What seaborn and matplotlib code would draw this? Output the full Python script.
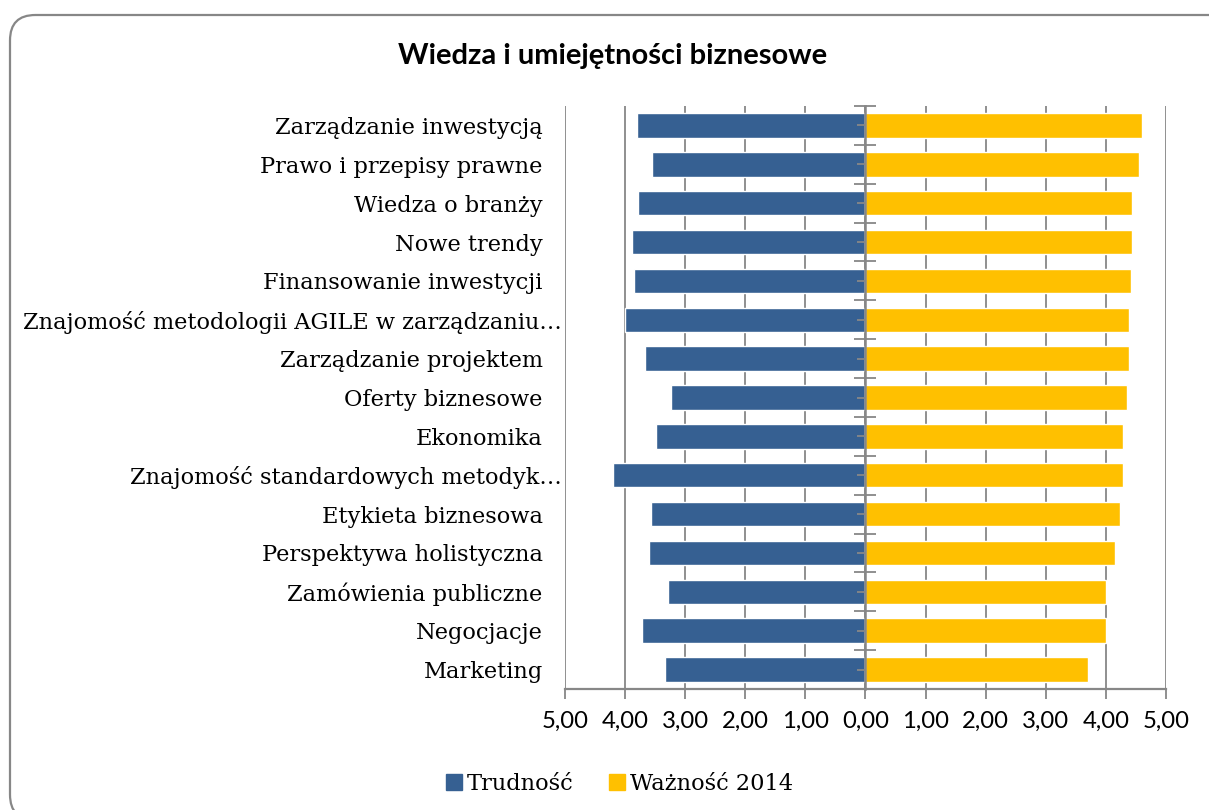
import numpy as np
import pandas as pd
import matplotlib
matplotlib.use("Agg")
import matplotlib.pyplot as plt
import matplotlib.transforms as mtransforms
from matplotlib.lines import Line2D
from matplotlib.patches import FancyBboxPatch
from matplotlib.ticker import FuncFormatter
import seaborn as sns

# Dane (od góry do dołu)
kategorie = [
    "Zarządzanie inwestycją",
    "Prawo i przepisy prawne",
    "Wiedza o branży",
    "Nowe trendy",
    "Finansowanie inwestycji",
    "Znajomość metodologii AGILE w zarządzaniu…",
    "Zarządzanie projektem",
    "Oferty biznesowe",
    "Ekonomika",
    "Znajomość standardowych metodyk…",
    "Etykieta biznesowa",
    "Perspektywa holistyczna",
    "Zamówienia publiczne",
    "Negocjacje",
    "Marketing",
]
trudnosc = [3.80, 3.55, 3.78, 3.88, 3.85, 4.00, 3.67, 3.24, 3.49, 4.20, 3.57, 3.60, 3.28, 3.72, 3.33]
waznosc_2014 = [4.60, 4.55, 4.44, 4.44, 4.42, 4.39, 4.39, 4.36, 4.29, 4.28, 4.24, 4.15, 4.00, 4.00, 3.70]
seria_nazwy = ["Trudność", "Ważność 2014"]
x_ticki = [-5, -4, -3, -2, -1, 0, 1, 2, 3, 4, 5]

kolor_niebieski = "#366092"
kolor_zolty = "#FFC000"
kolor_szary = "#878787"

df = pd.DataFrame({"kategoria": kategorie,
                   "trudnosc": -np.array(trudnosc),
                   "waznosc": np.array(waznosc_2014)})

sns.set_theme(style="white")
plt.rcParams["font.family"] = ["DejaVu Serif"]
plt.rcParams["text.color"] = "black"

fig = plt.figure(figsize=(12.09, 8.10), dpi=100)
ax = fig.add_axes([0.4673, 0.1494, 0.4971, 0.7197])

sns.barplot(data=df, x="trudnosc", y="kategoria", color=kolor_niebieski,
            width=0.63, saturation=1, ax=ax)
sns.barplot(data=df, x="waznosc", y="kategoria", color=kolor_zolty,
            width=0.63, saturation=1, ax=ax)

n = len(kategorie)
ax.set_xlim(-5, 5)
ax.set_ylim(n - 0.5, -0.5)
ax.set_xlabel("")
ax.set_ylabel("")

# siatka pionowa
ax.set_xticks(x_ticki)
ax.grid(axis="x", color=kolor_szary, linewidth=1.3)
ax.set_axisbelow(True)
for s in ["top", "right", "left"]:
    ax.spines[s].set_visible(False)
ax.spines["bottom"].set_color(kolor_szary)
ax.spines["bottom"].set_linewidth(1.6)

ax.xaxis.set_major_formatter(FuncFormatter(lambda v, p: f"{abs(v):.2f}".replace(".", ",")))
ax.tick_params(axis="x", bottom=True, direction="out", length=7, width=1.3,
               color=kolor_szary, pad=9, labelsize=17.2, labelcolor="black")
for t in ax.get_xticklabels():
    t.set_fontfamily("Lato")

ax.tick_params(axis="y", left=False, pad=10, labelsize=16.2, labelcolor="black")
przesun = mtransforms.ScaledTranslation(13.5 / 72, 0, fig.dpi_scale_trans)
for t in ax.get_yticklabels():
    if t.get_text().endswith("…"):
        t.set_transform(t.get_transform() + przesun)

# oś pionowa w zerze (nad słupkami)
os0 = ax.secondary_yaxis(0.5)
os0.set_zorder(3)
os0.set_yticks(np.arange(n + 1) - 0.5)
os0.set_yticks(np.arange(n), minor=True)
os0.set_yticklabels([])
os0.tick_params(which="major", direction="inout", length=16, width=1.3, color=kolor_szary)
os0.tick_params(which="minor", direction="in", length=6, width=1.3, color=kolor_szary)
for sp in os0.spines.values():
    sp.set_color(kolor_szary)
    sp.set_linewidth(1.8)

fig.text(0.507, 0.931, "Wiedza i umiejętności biznesowe", ha="center", va="center",
         fontsize=21, fontweight="bold", family="Lato", color="black")

uchwyty = [Line2D([], [], marker="s", linestyle="", markersize=11, color=kolor_niebieski),
           Line2D([], [], marker="s", linestyle="", markersize=11, color=kolor_zolty)]
fig.legend(uchwyty, seria_nazwy, loc="center", bbox_to_anchor=(0.511, 0.032),
           ncol=2, frameon=False, fontsize=16.2, handletextpad=0.1, columnspacing=1.4,
           handlelength=1.0, labelcolor="black")

ramka = FancyBboxPatch((10 / 1209, -10 / 810), 1.05, 1 - 5 / 810,
                       boxstyle="round,pad=0,rounding_size=0.021",
                       transform=fig.transFigure, fill=False,
                       edgecolor=kolor_szary, linewidth=1.6, clip_on=False,
                       mutation_aspect=1209 / 810)
fig.patches.append(ramka)

fig.savefig("out.png", dpi=100)
